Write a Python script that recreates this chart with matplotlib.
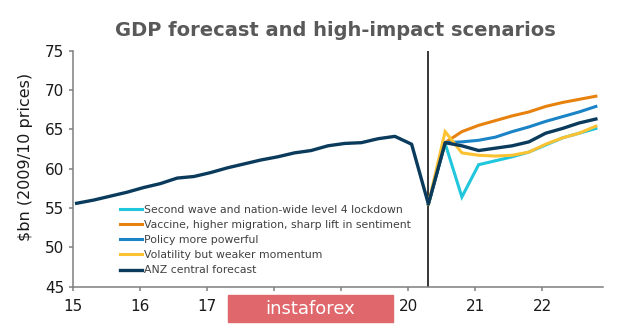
import numpy as np
import matplotlib
matplotlib.use("Agg")
import matplotlib.pyplot as plt

# quarterly points (year axis, 15 = 2015)
years = 15.05 + 0.25 * np.arange(32)

central = [55.6, 56.0, 56.5, 57.0, 57.6, 58.1, 58.8, 59.0,
           59.5, 60.1, 60.6, 61.1, 61.5, 62.0, 62.3, 62.9,
           63.2, 63.3, 63.8, 64.1, 63.1, 55.5, 63.3, 62.9,
           62.3, 62.6, 62.9, 63.4, 64.5, 65.1, 65.8, 66.3]

# scenarios start at the 2020 trough (index 21)
fc_years = years[21:]
second_wave = [55.5, 63.2, 56.4, 60.5, 61.0, 61.5, 62.1, 63.0, 63.9, 64.5, 65.1]
vaccine     = [55.5, 63.3, 64.7, 65.5, 66.1, 66.7, 67.2, 67.9, 68.4, 68.8, 69.2]
policy      = [55.5, 63.3, 63.4, 63.6, 64.0, 64.7, 65.3, 66.0, 66.6, 67.2, 67.9]
volatility  = [55.5, 64.7, 62.0, 61.7, 61.6, 61.7, 62.1, 63.1, 63.9, 64.5, 65.4]

labels = ["Second wave and nation-wide level 4 lockdown",
          "Vaccine, higher migration, sharp lift in sentiment",
          "Policy more powerful",
          "Volatility but weaker momentum",
          "ANZ central forecast"]
colors = ["#1fc6dc", "#e8820e", "#1a84c6", "#fdc232", "#0b3b5c"]

fig = plt.figure(figsize=(6.2, 3.24), dpi=100)
ax = fig.add_axes([0.1182, 0.115, 0.8537, 0.729])

series = [second_wave, vaccine, policy, volatility]
for vals, lab, col in zip(series, labels[:4], colors[:4]):
    ax.plot(fc_years, vals, color=col, lw=2.2, label=lab, solid_joinstyle="miter")
ax.plot(years, central, color=colors[4], lw=2.4, label=labels[4])

ax.axvline(20.3, color="black", lw=1.1, zorder=1)

ax.set_xlim(15, 22.9)
ax.set_ylim(45, 75)
ax.set_xticks([15, 16, 17, 18, 19, 20, 21, 22])
ax.set_xticklabels(["15", "16", "17", "18", "19", "20", "21", "22"])
ax.set_yticks(range(45, 76, 5))

for side in ["top", "right"]:
    ax.spines[side].set_visible(False)
for side in ["left", "bottom"]:
    ax.spines[side].set_color("#7f7f7f")
    ax.spines[side].set_linewidth(1.1)
ax.tick_params(axis="both", colors="#7f7f7f", labelcolor="#1a1a1a",
               labelsize=11, length=3, width=1.1, direction="out")
ax.tick_params(axis="x", pad=6)

ax.set_ylabel("$bn (2009/10 prices)", fontsize=11.5, color="#1a1a1a")
ax.yaxis.set_label_coords(-0.076, 0.55)

leg = ax.legend(loc="upper left", bbox_to_anchor=(0.1935, 0.3675),
                bbox_transform=fig.transFigure, frameon=False, fontsize=7.8,
                handlelength=2.05, handletextpad=0.15, labelspacing=0.47,
                borderpad=0, borderaxespad=0)
for t in leg.get_texts():
    t.set_color("#404040")

fig.text(335 / 620, 0.907, "GDP forecast and high-impact scenarios", ha="center",
         va="center", fontsize=14, fontweight="bold", color="#595959")

# watermark box
fig.patches.append(plt.Rectangle((228 / 620, 1 - 322 / 324), 165 / 620, 27 / 324,
                                 transform=fig.transFigure, color="#e0686c",
                                 zorder=10))
fig.text(310 / 620, 1 - 309 / 324, "instaforex", ha="center", va="center",
         fontsize=13, color="white", zorder=11)

fig.savefig("out.png", dpi=100)
